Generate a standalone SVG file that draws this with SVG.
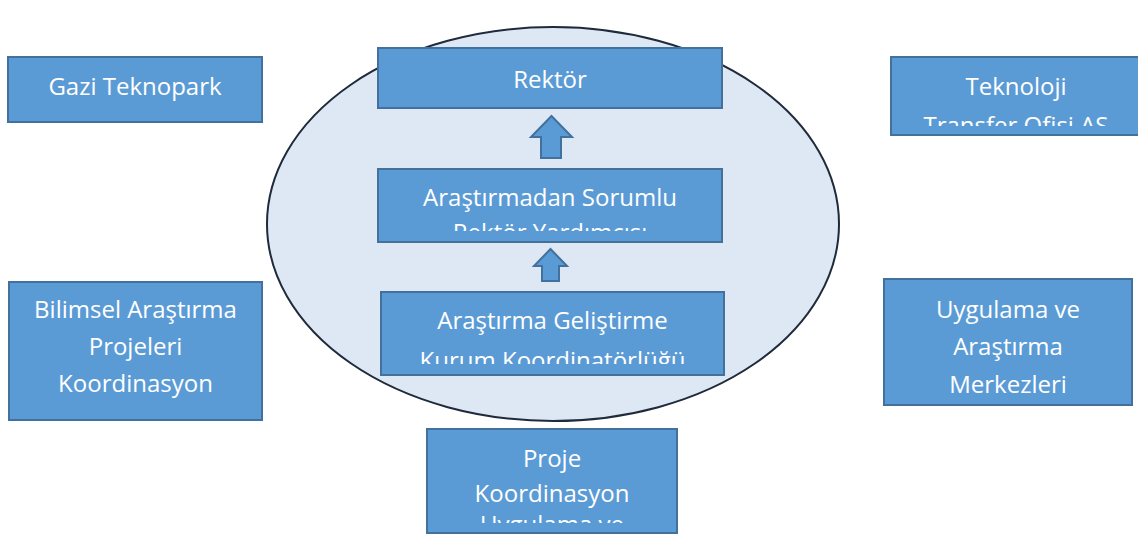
<svg xmlns="http://www.w3.org/2000/svg" width="1138" height="536" viewBox="0 0 1138 536">
<style>
.box{fill:#5b9bd5;stroke:#41719c;stroke-width:2}
.t{font-family:"Open Sans","Noto Sans","DejaVu Sans",sans-serif;font-size:24px;fill:#ffffff;text-anchor:middle}
.arr{fill:#5b9bd5;stroke:#41719c;stroke-width:2;stroke-linejoin:miter}
</style>
<defs>
<clipPath id="c2"><rect x="378" y="169" width="344" height="62"/></clipPath>
<clipPath id="c3"><rect x="381" y="292" width="343" height="72"/></clipPath>
<clipPath id="c4"><rect x="427" y="429" width="250" height="94"/></clipPath>
<clipPath id="c5"><rect x="891" y="57" width="249" height="69"/></clipPath>
<clipPath id="c6"><rect x="884" y="279" width="248" height="116"/></clipPath>
</defs>
<rect width="1138" height="536" fill="#ffffff"/>
<ellipse id="circle" cx="553" cy="224" rx="286" ry="197" fill="#dee8f4" stroke="#1f2a3a" stroke-width="2"/>
<g id="connectors">
<polygon class="arr" points="551.5,116 572,137 561,137 561,158 541,158 541,137 531,137"/>
<polygon class="arr" points="550.5,249 567,266 559,266 559,281 542,281 542,266 534,266"/>
</g>
<g id="rektor">
<rect class="box" x="378" y="48" width="344" height="60"/>
<text class="t" x="550" y="88">Rektör</text>
</g>
<g id="yardimci">
<rect class="box" x="378" y="169" width="344" height="73"/>
<g clip-path="url(#c2)">
<text class="t" x="550" y="206">Araştırmadan Sorumlu</text>
<text class="t" x="550" y="241">Rektör Yardımcısı</text>
</g>
</g>
<g id="koordinatorluk">
<rect class="box" x="381" y="292" width="343" height="83"/>
<g clip-path="url(#c3)">
<text class="t" x="552.5" y="329">Araştırma Geliştirme</text>
<text class="t" x="552.5" y="369">Kurum Koordinatörlüğü</text>
</g>
</g>
<g id="proje">
<rect class="box" x="427" y="429" width="250" height="104"/>
<g clip-path="url(#c4)">
<text class="t" x="552" y="467">Proje</text>
<text class="t" x="552" y="502">Koordinasyon</text>
<text class="t" x="552" y="533">Uygulama ve</text>
</g>
</g>
<g id="teknopark">
<rect class="box" x="8" y="57" width="254" height="65"/>
<text class="t" x="135" y="95">Gazi Teknopark</text>
</g>
<g id="tto">
<rect class="box" x="891" y="57" width="250" height="78"/>
<g clip-path="url(#c5)">
<text class="t" x="1016" y="95">Teknoloji</text>
<text class="t" x="1016" y="134">Transfer Ofisi AŞ</text>
</g>
</g>
<g id="bap">
<rect class="box" x="9" y="282" width="253" height="138"/>
<text class="t" x="135.5" y="318">Bilimsel Araştırma</text>
<text class="t" x="135.5" y="355">Projeleri</text>
<text class="t" x="135.5" y="392">Koordinasyon</text>
</g>
<g id="merkezler">
<rect class="box" x="884" y="279" width="248" height="126"/>
<g clip-path="url(#c6)">
<text class="t" x="1008" y="318">Uygulama ve</text>
<text class="t" x="1008" y="355">Araştırma</text>
<text class="t" x="1008" y="393">Merkezleri</text>
</g>
</g>
</svg>
